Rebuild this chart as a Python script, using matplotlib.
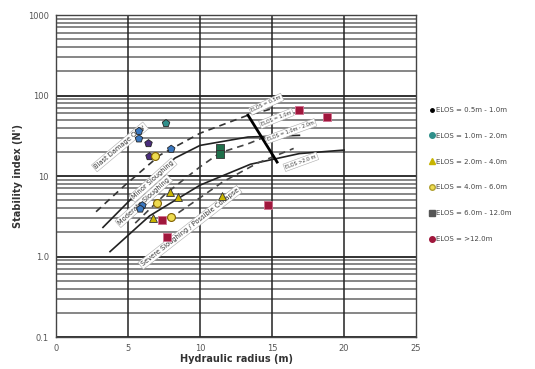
import matplotlib
matplotlib.use("Agg")
import matplotlib.pyplot as plt
from matplotlib.lines import Line2D

# ELOS classes (legend) and observed points: hydraulic radius, stability index
elos_labels = ["ELOS = 0.5m - 1.0m", "ELOS = 1.0m - 2.0m", "ELOS = 2.0m - 4.0m",
               "ELOS = 4.0m - 6.0m", "ELOS = 6.0m - 12.0m", "ELOS = >12.0m"]

hr_05 = [6.4, 6.45]
n_05 = [26, 17.5]
hr_10 = [5.76, 5.76, 8.0, 7.64, 6.0, 5.85]
n_10 = [36, 29, 21.6, 45, 4.3, 3.9]
hr_20 = [8.5, 11.5, 6.7, 7.9]
n_20 = [5.5, 5.7, 3.0, 6.3]
hr_40 = [7.0, 8.0, 6.9]
n_40 = [4.6, 3.1, 17.5]
hr_60 = [11.4, 11.4]
n_60 = [22.5, 19]
hr_12 = [16.9, 18.8, 14.7, 7.36, 7.7]
n_12 = [66, 54, 4.4, 2.84, 1.75]

# design lines
c1_hr = [2.78, 4.79, 7.22, 10.0, 13.33, 15.2]
c1_n = [3.6, 7.7, 18.2, 34, 57, 70]
c2_hr = [3.26, 5.83, 8.26, 10.0, 13.33, 16.9]
c2_n = [2.3, 6.7, 16.7, 24, 30.5, 32]
c3_hr = [5.5, 7.6, 10.0, 11.4, 13.3, 14.6]
c3_n = [2.6, 6.0, 13.0, 19.5, 25, 31]
c4_hr = [3.75, 6.5, 10.0, 13.5, 16.9, 20.0]
c4_n = [1.15, 3.2, 7.7, 14, 19, 21]
c5_hr = [8.5, 11.6, 14.0, 16.5]
c5_n = [3.5, 8.5, 14.5, 22]

bar_hr = [13.33, 15.35]
bar_n = [57, 14.9]

fig = plt.figure(figsize=(5.35, 3.69), dpi=100)
ax = fig.add_axes([0.1047, 0.0867, 0.673, 0.8726])
ax.set_yscale("log")
ax.set_xlim(0, 25)
ax.set_ylim(0.1, 1000)

# grid
for dec in [0.1, 1, 10, 100]:
    for k in range(2, 10):
        ax.axhline(dec * k, color="#666666", lw=1.1, zorder=1)
    ax.axhline(dec, color="#222222", lw=1.3, zorder=1)
for xv in [5, 10, 15, 20]:
    ax.axvline(xv, color="#222222", lw=1.1, zorder=1)

# design lines
ax.plot(c1_hr, c1_n, color="#333333", lw=1.2, ls=(0, (4, 3)), zorder=2)
ax.plot(c2_hr, c2_n, color="#222222", lw=1.2, zorder=2)
ax.plot(c3_hr, c3_n, color="#444444", lw=1.2, ls=(0, (4, 3)), zorder=2)
ax.plot(c4_hr, c4_n, color="#222222", lw=1.2, zorder=2)
ax.plot(c5_hr, c5_n, color="#444444", lw=1.2, ls=(0, (4, 3)), zorder=2)
ax.plot(bar_hr, bar_n, color="black", lw=2, zorder=3)

box = dict(facecolor="white", edgecolor="#aaaaaa", lw=0.4, pad=1)
tk = dict(fontsize=4.8, color="#333333", ha="center", va="center",
          rotation_mode="anchor", bbox=box, zorder=4)
ax.text(4.44, 23, "Blast Damage Only", rotation=40, **tk)
ax.text(6.74, 8.9, "Minor Sloughing", rotation=42, **tk)
ax.text(6.1, 4.9, "Moderate Sloughing", rotation=42, **tk)
ax.text(9.3, 2.3, "Severe Sloughing / Possible Collapse", rotation=38, **tk)
ek = dict(fontsize=3.5, color="#333333", ha="center", va="center",
          rotation_mode="anchor", bbox=box, zorder=4)
ax.text(14.6, 78, "ELOS = 0.5m", rotation=25, **ek)
ax.text(15.3, 52, "ELOS = 1.0m", rotation=22, **ek)
ax.text(16.3, 36, "ELOS = 1.0m - 2.0m", rotation=20, **ek)
ax.text(17.0, 15, "ELOS >2.0 m", rotation=20, **ek)

# observations
ms = 32
ax.scatter(hr_05, n_05, s=ms, marker="p", color="#4a2d7d", edgecolors="#222222", lw=0.6, zorder=5)
ax.scatter(hr_10, n_10, s=ms, marker="p",
           color=["#3b78c0", "#3b78c0", "#3b78c0", "#2f8f8a", "#3b78c0", "#3b78c0"],
           edgecolors="#222222", lw=0.6, zorder=5)
ax.scatter(hr_20, n_20, s=ms, marker="^", color="#c8b400", edgecolors="#333333", lw=0.6, zorder=5)
ax.scatter(hr_40, n_40, s=ms, marker="o", color="#eedc50", edgecolors="#806000", lw=0.8, zorder=5)
ax.scatter(hr_60, n_60, s=ms, marker="s", color="#1f6f4a", edgecolors="#333333", lw=0.6, zorder=5)
ax.scatter(hr_12, n_12, s=ms, marker="s", color="#a0173c", edgecolors="#d07090", lw=0.6, zorder=5)

ax.set_xticks([0, 5, 10, 15, 20, 25])
ax.set_yticks([0.1, 1, 10, 100, 1000])
ax.set_yticklabels(["0.1", "1.0", "10", "100", "1000"])
ax.minorticks_off()
ax.tick_params(length=0, labelsize=6, colors="#555555", pad=5)
for s in ax.spines.values():
    s.set_color("#444444")
    s.set_linewidth(1)

ax.set_xlabel("Hydraulic radius (m)", fontsize=7, fontweight="bold", color="#333333", labelpad=1)
ax.set_ylabel("Stability index (N')", fontsize=7, fontweight="bold", color="#333333", labelpad=4)

handles = [
    Line2D([], [], ls="", marker="o", ms=2.5, color="black"),
    Line2D([], [], ls="", marker="o", ms=4, color="#2f8f8a"),
    Line2D([], [], ls="", marker="^", ms=4, color="#c8b400"),
    Line2D([], [], ls="", marker="o", ms=4, mfc="#eedc50", mec="#b0a030"),
    Line2D([], [], ls="", marker="s", ms=4, color="#555555"),
    Line2D([], [], ls="", marker="o", ms=4, color="#a0173c"),
]
fig.legend(handles, elos_labels, loc="upper left", bbox_to_anchor=(0.79, 0.727),
           frameon=False, fontsize=5, labelspacing=2.85, handletextpad=0.2,
           handlelength=0.8, labelcolor="#444444")

fig.savefig("out.png", dpi=100)
